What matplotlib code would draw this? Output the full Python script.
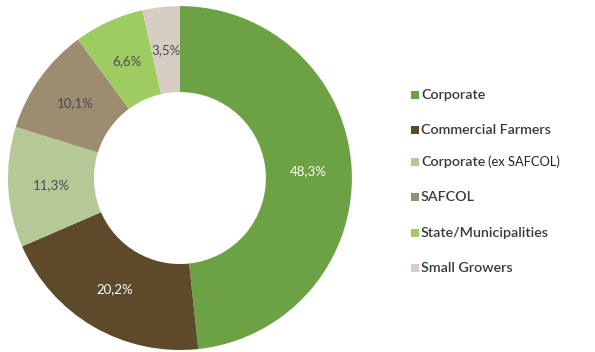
import matplotlib
matplotlib.use("Agg")
import matplotlib.pyplot as plt
from matplotlib.patches import Rectangle

categories = ["Corporate", "Commercial Farmers", "Corporate", "SAFCOL",
              "State/Municipalities", "Small Growers"]
suffixes = ["", "", "(ex SAFCOL)", "", "", ""]
shares = [48.3, 20.2, 11.3, 10.1, 6.6, 3.5]
colors = ["#6ca243", "#5c4a2b", "#b6c896", "#9d8d70", "#9fcc60", "#d8cdc1"]
label_colors = ["white", "white", "#4a4a55", "#4a4a55", "#4a4a55", "#4a4a55"]

plt.rcParams["font.family"] = ["Lato", "DejaVu Sans"]

fig = plt.figure(figsize=(5.95, 3.52), dpi=100)
fig.patch.set_facecolor("white")
ax = fig.add_axes([0.0134, 0.0057, 0.578, 0.977])
ax.set_aspect("equal")

wedges, texts, autotexts = ax.pie(
    shares, colors=colors, startangle=90, counterclock=False, radius=1.0,
    wedgeprops=dict(width=0.5, edgecolor="none"),
    autopct=lambda p: "", pctdistance=0.75)

# percentage labels with comma decimals
for t, v, c in zip(autotexts, shares, label_colors):
    t.set_text(f"{v:.1f}".replace(".", ",") + "%")
    t.set_color(c)
    t.set_fontsize(9.5)
ax.set_xlim(-1, 1)
ax.set_ylim(-1, 1)

# legend on the right
W, H = 595, 352
ys = [95, 130, 162, 197, 233, 268]
for name, suf, col, y in zip(categories, suffixes, colors, ys):
    fig.patches.append(Rectangle((411 / W, 1 - (y + 4) / H), 8 / W, 8 / H,
                                 transform=fig.transFigure, facecolor=col,
                                 edgecolor="none"))
    fig.text(421 / W, 1 - y / H, name, ha="left", va="center",
             fontsize=10.3, fontweight="semibold", color="#3a3a3a")
    if suf:
        fig.text(488 / W, 1 - y / H, suf, ha="left", va="center",
                 fontsize=9.3, color="#222222")

fig.savefig("out.png", dpi=100, facecolor="white")
